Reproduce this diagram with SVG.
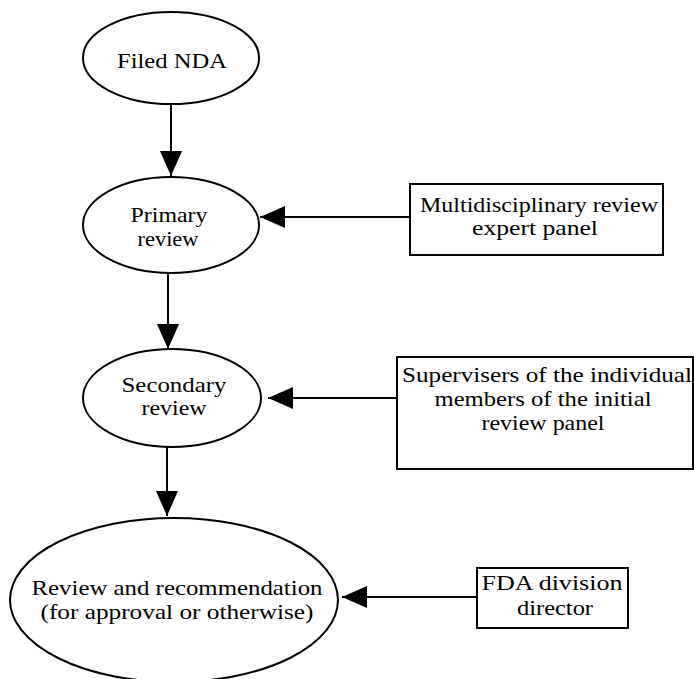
<svg xmlns="http://www.w3.org/2000/svg" width="694" height="679" viewBox="0 0 694 679">
  <defs>
    <style>
      .shape { fill: #fff; stroke: #000; stroke-width: 2; }
      .edge { fill: none; stroke: #000; stroke-width: 2; }
      .label { font-size: 21px; fill: #000; text-anchor: middle; }
    </style>
    <marker id="head" viewBox="0 0 25 22" refX="25" refY="11" markerWidth="25" markerHeight="22" markerUnits="userSpaceOnUse" orient="auto">
      <path d="M0,0 L25,11 L0,22 Z" fill="#000"/>
    </marker>
  </defs>
  <rect width="694" height="679" fill="#fff"/>

  <g id="connectors">
    <line class="edge" x1="171" y1="104" x2="171" y2="176" marker-end="url(#head)"/>
    <line class="edge" x1="168" y1="273" x2="168" y2="349" marker-end="url(#head)"/>
    <line class="edge" x1="167" y1="447" x2="167" y2="516" marker-end="url(#head)"/>
    <line class="edge" x1="410" y1="217" x2="260" y2="217" marker-end="url(#head)"/>
    <line class="edge" x1="397" y1="398" x2="268" y2="398" marker-end="url(#head)"/>
    <line class="edge" x1="477" y1="597" x2="342" y2="597" marker-end="url(#head)"/>
  </g>

  <g font-family="'Liberation Serif', 'Times New Roman', 'DejaVu Serif', serif">
    <g id="filed-nda">
      <ellipse class="shape" cx="171" cy="58" rx="88" ry="46"/>
      <text class="label" x="172" y="68" textLength="110" lengthAdjust="spacingAndGlyphs">Filed NDA</text>
    </g>

    <g id="primary-review">
      <ellipse class="shape" cx="171" cy="225" rx="88" ry="48"/>
      <text class="label" x="169" y="222" textLength="77" lengthAdjust="spacingAndGlyphs">Primary</text>
      <text class="label" x="168" y="246" textLength="61" lengthAdjust="spacingAndGlyphs">review</text>
    </g>

    <g id="secondary-review">
      <ellipse class="shape" cx="172" cy="398" rx="89" ry="49"/>
      <text class="label" x="174" y="392" textLength="105" lengthAdjust="spacingAndGlyphs">Secondary</text>
      <text class="label" x="174" y="415" textLength="65" lengthAdjust="spacingAndGlyphs">review</text>
    </g>

    <g id="review-recommendation">
      <ellipse class="shape" cx="174" cy="600" rx="164" ry="82"/>
      <text class="label" x="177" y="595" textLength="291" lengthAdjust="spacingAndGlyphs">Review and recommendation</text>
      <text class="label" x="177" y="619" textLength="273" lengthAdjust="spacingAndGlyphs">(for approval or otherwise)</text>
    </g>

    <g id="expert-panel">
      <rect class="shape" x="410" y="184" width="253" height="71"/>
      <text class="label" x="539" y="212" textLength="238" lengthAdjust="spacingAndGlyphs">Multidisciplinary review</text>
      <text class="label" x="535" y="235" textLength="126" lengthAdjust="spacingAndGlyphs">expert panel</text>
    </g>

    <g id="supervisers">
      <rect class="shape" x="397" y="357" width="296" height="112"/>
      <text class="label" x="547" y="382" textLength="290" lengthAdjust="spacingAndGlyphs">Supervisers of the individual</text>
      <text class="label" x="543" y="406" textLength="217" lengthAdjust="spacingAndGlyphs">members of the initial</text>
      <text class="label" x="543" y="430" textLength="123" lengthAdjust="spacingAndGlyphs">review panel</text>
    </g>

    <g id="division-director">
      <rect class="shape" x="477" y="568" width="151" height="60"/>
      <text class="label" x="552" y="590" textLength="141" lengthAdjust="spacingAndGlyphs">FDA division</text>
      <text class="label" x="555" y="615" textLength="76" lengthAdjust="spacingAndGlyphs">director</text>
    </g>
  </g>
</svg>
